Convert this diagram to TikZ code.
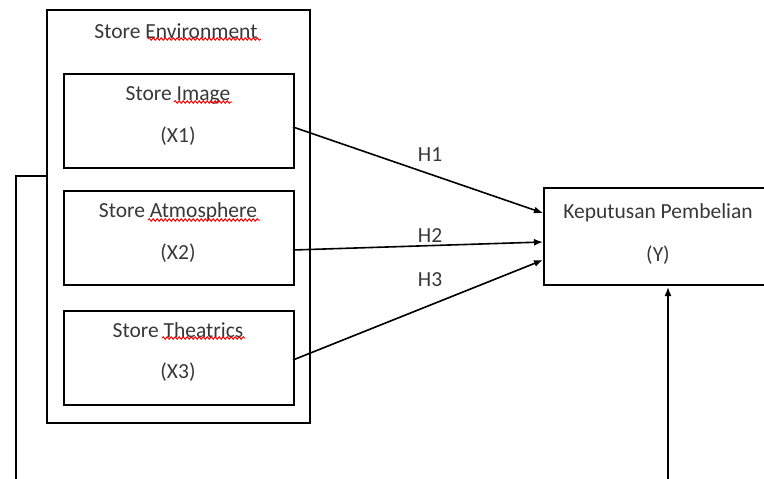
\documentclass[tikz,border=0pt]{standalone}
\usepackage{fontspec}
\setmainfont{Carlito}
\usetikzlibrary{arrows.meta,decorations.pathmorphing}
\begin{document}
\begin{tikzpicture}[x=1pt,y=-1pt,
  box/.style={draw,line width=1.8pt,rectangle,inner sep=0pt,anchor=north west},
  lbl/.style={font=\fontsize{21.5}{24}\selectfont,text=black!78,inner sep=0pt},
  conn/.style={line width=1.6pt,-{Latex[length=9pt,width=7pt]}},
  squig/.style={red,line width=1pt,decorate,decoration={snake,amplitude=1.2pt,segment length=4pt}}]
\useasboundingbox (0,0) rectangle (764,479);
\clip (0,0) rectangle (764,479);
% outer box
\node[box,minimum width=263pt,minimum height=413pt] (env) at (46,9) {};
\node[box,minimum width=230pt,minimum height=94pt] (x1) at (63,73) {};
\node[box,minimum width=230pt,minimum height=94pt] (x2) at (63,190) {};
\node[box,minimum width=230pt,minimum height=94pt] (x3) at (63,310) {};
\node[box,minimum width=240pt,minimum height=97pt] (y) at (543,187) {};
% texts
\node[lbl] (tenv) at (176,31) {Store Environment};
\node[lbl] (t1) at (178,95) {Store Image};
\node[lbl] (t1b) at (178,136) {(X1)};
\node[lbl] (t2) at (178,212) {Store Atmosphere};
\node[lbl] (t2b) at (178,253) {(X2)};
\node[lbl] (t3) at (178,330) {Store Theatrics};
\node[lbl] (t3b) at (178,372) {(X3)};
\node[lbl] (ty) at (658,213) {Keputusan Pembelian};
\node[lbl] (tyb) at (658,255) {(Y)};
% spellcheck squiggles
\draw[squig] (148,39) -- (261,39);
\draw[squig] (174,102) -- (232,102);
\draw[squig] (148,220) -- (260,220);
\draw[squig] (162,338) -- (245,338);
% arrows
\coordinate (a1) at (293,127);
\coordinate (a2) at (293,250);
\coordinate (a3) at (293,360);
\coordinate (b1) at (543,213);
\coordinate (b2) at (543,242);
\coordinate (b3) at (543,260);
\draw[conn] (a1) -- (b1);
\draw[conn] (a2) -- (b2);
\draw[conn] (a3) -- (b3);
\node[lbl] (h1) at (430,155) {H1};
\node[lbl] (h2) at (430,236) {H2};
\node[lbl] (h3) at (430,280) {H3};
% feedback lines
\coordinate (l0) at (46,176);
\coordinate (l1) at (16,176);
\coordinate (l2) at (16,485);
\draw[line width=1.8pt] (l0) -- (l1) -- (l2);
\coordinate (bt) at (668,485);
\coordinate (bu) at (668,287);
\draw[conn] (bt) -- (bu);
\end{tikzpicture}
\end{document}
